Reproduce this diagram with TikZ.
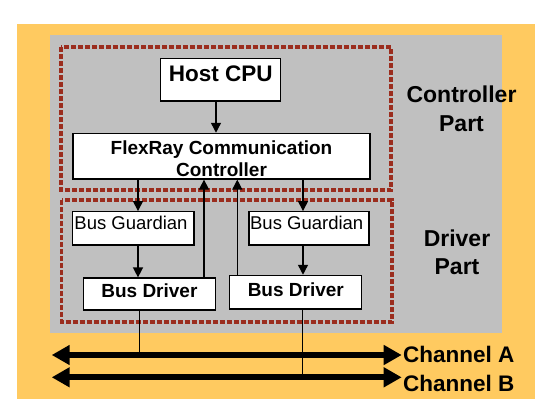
\documentclass[tikz,border=0pt]{standalone}
\usepackage{fontspec}
\setmainfont{Liberation Sans}
\usetikzlibrary{arrows.meta}
\definecolor{orangebg}{RGB}{255,202,96}
\definecolor{graybg}{RGB}{192,192,192}
\definecolor{dashred}{RGB}{155,45,30}
\tikzset{
  box/.style={draw=black, line width=1.2pt, fill=white, inner sep=0pt},
  zone/.style={draw=dashred, line width=3.8pt, dash pattern=on 5pt off 2pt},
  arr/.style={draw=black, line width=1.4pt, -{Triangle[length=10pt,width=10pt]}},
  wire/.style={draw=black, line width=1.2pt},
  bus/.style={draw=black, line width=6pt, {Triangle[length=18pt,width=19pt]}-{Triangle[length=18pt,width=19pt]}},
  lblbig/.style={inner sep=0pt, font=\fontsize{22.5}{27}\selectfont\bfseries},
  lblside/.style={inner sep=0pt, align=center, font=\fontsize{23}{28.5}\selectfont\bfseries},
  lblflex/.style={inner sep=0pt, align=center, font=\fontsize{19}{22.3}\selectfont\bfseries},
  lblbg/.style={inner sep=0pt, font=\fontsize{18.5}{22}\selectfont},
  lblbd/.style={inner sep=0pt, font=\fontsize{19}{22}\selectfont\bfseries},
}
\begin{document}
\begin{tikzpicture}[x=1pt,y=-1pt]
\useasboundingbox (0,0) rectangle (550,418);
\fill[white] (0,0) rectangle (550,418);
\fill[orangebg] (17,24) rectangle (535,399.3);
\fill[graybg] (50,35) rectangle (501.7,332.7);
% zones
\draw[zone] (61.3,47) rectangle (391,190);
\draw[zone] (61.5,200) rectangle (391.7,322);
% boxes
\node[box, minimum width=120pt, minimum height=42.7pt] (host) at (220.7,79.7) {};
\node[lblbig] (hostt) at (220.7,73.5) {Host CPU};
\node[box, minimum width=297pt, minimum height=45.7pt] (flex) at (221.5,156.2) {};
\node[lblflex] (flext) at (221.5,158.5) {FlexRay Communication\\Controller};
\node[box, minimum width=121.7pt, minimum height=33.3pt] (bgl) at (133.2,228.3) {};
\node[lblbg] (bglt) at (131,223) {Bus Guardian};
\node[box, minimum width=120pt, minimum height=33.3pt] (bgr) at (309,228.3) {};
\node[lblbg] (bgrt) at (306.7,223) {Bus Guardian};
\node[box, minimum width=132.4pt, minimum height=32pt] (bdl) at (149.5,294) {};
\node[lblbd] (bdlt) at (149.4,290.5) {Bus Driver};
\node[box, minimum width=132.4pt, minimum height=33.7pt] (bdr) at (295.5,292.2) {};
\node[lblbd] (bdrt) at (295.8,289.5) {Bus Driver};
% side labels
\node[lblside] (ctrl) at (461.5,108.8) {Controller\\Part};
\node[lblside] (drv) at (457,252.3) {Driver\\Part};
% buses
\coordinate (a0) at (51.7,355);
\coordinate (a1) at (401.7,355);
\coordinate (b0) at (51.7,377.3);
\coordinate (b1) at (401.7,377.3);
\draw[bus] (a0) -- (a1);
\draw[bus] (b0) -- (b1);
\node[lblbig, anchor=west] (cha) at (403,354) {Channel A};
\node[lblbig, anchor=west] (chb) at (403,383) {Channel B};
% connectors
\draw[arr] ([xshift=-4.7pt]host.south) -- ([xshift=-4.7pt]host.south |- flex.north);
\draw[arr] ([xshift=-83.5pt]flex.south) -- ([xshift=-83.5pt]flex.south |- bgl.north);
\draw[arr] ([xshift=81.5pt]flex.south) -- ([xshift=81.5pt]flex.south |- bgr.north);
\draw[arr] ([xshift=4.8pt]bgl.south) -- ([xshift=4.8pt]bgl.south |- bdl.north);
\draw[arr] ([xshift=-6pt]bgr.south) -- ([xshift=-6pt]bgr.south |- bdr.north);
\draw[arr] ([xshift=54.5pt]bdl.north) -- ([xshift=54.5pt]bdl.north |- flex.south);
\draw[arr] ([xshift=-58.2pt]bdr.north) -- ([xshift=-58.2pt]bdr.north |- flex.south);
\draw[wire] ([xshift=-10.2pt]bdl.south) -- ([xshift=-10.2pt]bdl.south |- a0);
\draw[wire] ([xshift=7.2pt]bdr.south) -- ([xshift=7.2pt]bdr.south |- b0);
\end{tikzpicture}
\end{document}
